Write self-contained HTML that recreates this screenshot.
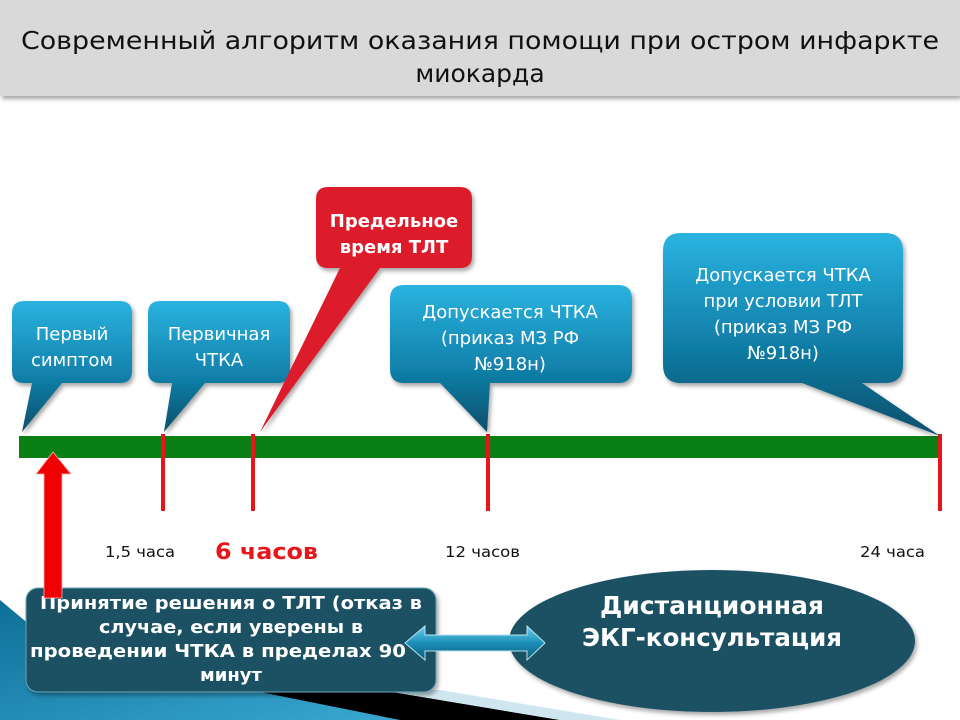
<!DOCTYPE html>
<html><head><meta charset="utf-8"><style>
html,body{margin:0;padding:0;background:#fff}
body{width:960px;height:720px;overflow:hidden;position:relative;font-family:"DejaVu Sans","Liberation Sans",sans-serif}
</style></head><body>
<svg width="960" height="720" viewBox="0 0 960 720" xmlns="http://www.w3.org/2000/svg" style="position:absolute;left:0;top:0">
<defs>
<linearGradient id="tb" x1="0" y1="0" x2="0" y2="1">
<stop offset="0" stop-color="#2bb3e0"/><stop offset="0.55" stop-color="#1283ad"/><stop offset="1" stop-color="#0a4f6a"/></linearGradient>
<linearGradient id="tb2" x1="0" y1="0" x2="0" y2="1">
<stop offset="0" stop-color="#2bb3e0"/><stop offset="0.5" stop-color="#1283ad"/><stop offset="1" stop-color="#0a4f6a"/></linearGradient>
<linearGradient id="da" x1="0" y1="0" x2="0" y2="1">
<stop offset="0" stop-color="#6fd0ee"/><stop offset="0.5" stop-color="#1b8fb8"/><stop offset="1" stop-color="#0c5a78"/></linearGradient>
<linearGradient id="bg" x1="0" y1="0" x2="1" y2="1">
<stop offset="0" stop-color="#0d6f98"/><stop offset="1" stop-color="#3aa9d2"/></linearGradient>
<filter id="sh" x="-10%" y="-10%" width="130%" height="130%"><feDropShadow dx="2" dy="3" stdDeviation="2" flood-opacity="0.35"/></filter>
</defs>
<!-- title -->
<rect x="0" y="0" width="960" height="96" fill="#d9d9d9" filter="url(#sh)"/>
<text x="480" y="49" text-anchor="middle" font-size="25" fill="#111" textLength="918" lengthAdjust="spacingAndGlyphs">Современный алгоритм оказания помощи при остром инфаркте</text>
<text x="480" y="82" text-anchor="middle" font-size="25" fill="#111">миокарда</text>

<!-- bottom-left decoration -->
<polygon points="0,600 30,625 420,720 0,720" fill="url(#bg)"/>
<polygon points="250,690 380,690 560,720 400,720" fill="#000"/>
<polygon points="380,690 440,690 620,720 560,720" fill="#cfe6f0"/>

<!-- green bar -->
<rect x="19" y="436" width="923" height="22" fill="#0a8014"/>
<g fill="#e8151b">
<rect x="161" y="434" width="4" height="77"/>
<rect x="251" y="434" width="4" height="77"/>
<rect x="486" y="434" width="4" height="77"/>
<rect x="938" y="434" width="4" height="77"/>
</g>

<!-- callouts -->
<g filter="url(#sh)">
<path d="M24,301 H120 Q132,301 132,313 V371 Q132,383 120,383 H62 L22,432 L32,383 H24 Q12,383 12,371 V313 Q12,301 24,301 Z" fill="url(#tb)"/>
<path d="M160,301 H278 Q290,301 290,313 V371 Q290,383 278,383 H205 L164,432 L172,383 H160 Q148,383 148,371 V313 Q148,301 160,301 Z" fill="url(#tb)"/>
<path d="M328,187 H460 Q472,187 472,199 V256 Q472,268 460,268 H380 L260,432 L340,268 H328 Q316,268 316,256 V199 Q316,187 328,187 Z" fill="#dc1c2a"/>
<path d="M404,285 H618 Q632,285 632,299 V369 Q632,383 618,383 H490 L487,432 L440,383 H404 Q390,383 390,369 V299 Q390,285 404,285 Z" fill="url(#tb)"/>
<path d="M681,233 H885 Q903,233 903,251 V365 Q903,383 885,383 H862 L940,436 L802,383 H681 Q663,383 663,365 V251 Q663,233 681,233 Z" fill="url(#tb2)"/>
</g>
<g fill="#fff" font-size="18" text-anchor="middle">
<text x="72" y="340">Первый</text><text x="72" y="366">симптом</text>
<text x="219" y="340">Первичная</text><text x="219" y="366">ЧТКА</text>
<text x="510" y="318">Допускается ЧТКА</text><text x="510" y="344">(приказ МЗ РФ</text><text x="510" y="370">№918н)</text>
<text x="783" y="281">Допускается ЧТКА</text><text x="783" y="307">при условии ТЛТ</text><text x="783" y="333">(приказ МЗ РФ</text><text x="783" y="359">№918н)</text>
<text x="394" y="227" font-weight="bold">Предельное</text><text x="394" y="253" font-weight="bold">время ТЛТ</text>
</g>

<!-- labels -->
<g font-size="15" fill="#111">
<text x="105" y="557" textLength="70" lengthAdjust="spacingAndGlyphs">1,5 часа</text>
<text x="445" y="557" textLength="75" lengthAdjust="spacingAndGlyphs">12 часов</text>
<text x="860" y="557" textLength="65" lengthAdjust="spacingAndGlyphs">24 часа</text>
</g>
<text x="215" y="559" font-size="22" font-weight="bold" fill="#e8151b" textLength="103" lengthAdjust="spacingAndGlyphs">6 часов</text>

<!-- bottom box -->
<rect x="26" y="588" width="410" height="104" rx="12" fill="#1a5163" stroke="#6aa7b8" stroke-width="1" filter="url(#sh)"/>
<g fill="#fff" font-size="18" font-weight="bold" text-anchor="middle">
<text x="231" y="609" textLength="382" lengthAdjust="spacingAndGlyphs">Принятие решения о ТЛТ (отказ в</text>
<text x="231" y="633" textLength="264" lengthAdjust="spacingAndGlyphs">случае, если уверены в</text>
<text x="218" y="657" textLength="376" lengthAdjust="spacingAndGlyphs">проведении ЧТКА в пределах 90</text>
<text x="231" y="681">минут</text>
</g>
<polygon points="44,598 44,474 36,474 53,452 71,474 62,474 62,598" fill="#f00000" stroke="#ffb0b0" stroke-width="0.8"/>

<!-- ellipse -->
<ellipse cx="712" cy="641" rx="203" ry="71" fill="#1a5163" filter="url(#sh)"/>
<text x="712" y="614" fill="#fff" font-size="25" font-weight="bold" text-anchor="middle" textLength="224" lengthAdjust="spacingAndGlyphs">Дистанционная</text>
<text x="712" y="646" fill="#fff" font-size="25" font-weight="bold" text-anchor="middle" textLength="260" lengthAdjust="spacingAndGlyphs">ЭКГ-консультация</text>

<polygon points="405,643 425,626 425,635 527,635 527,626 545,643 527,660 527,651 425,651 425,660" fill="url(#da)" stroke="#b8e4f2" stroke-width="1"/>
</svg>
</body></html>
